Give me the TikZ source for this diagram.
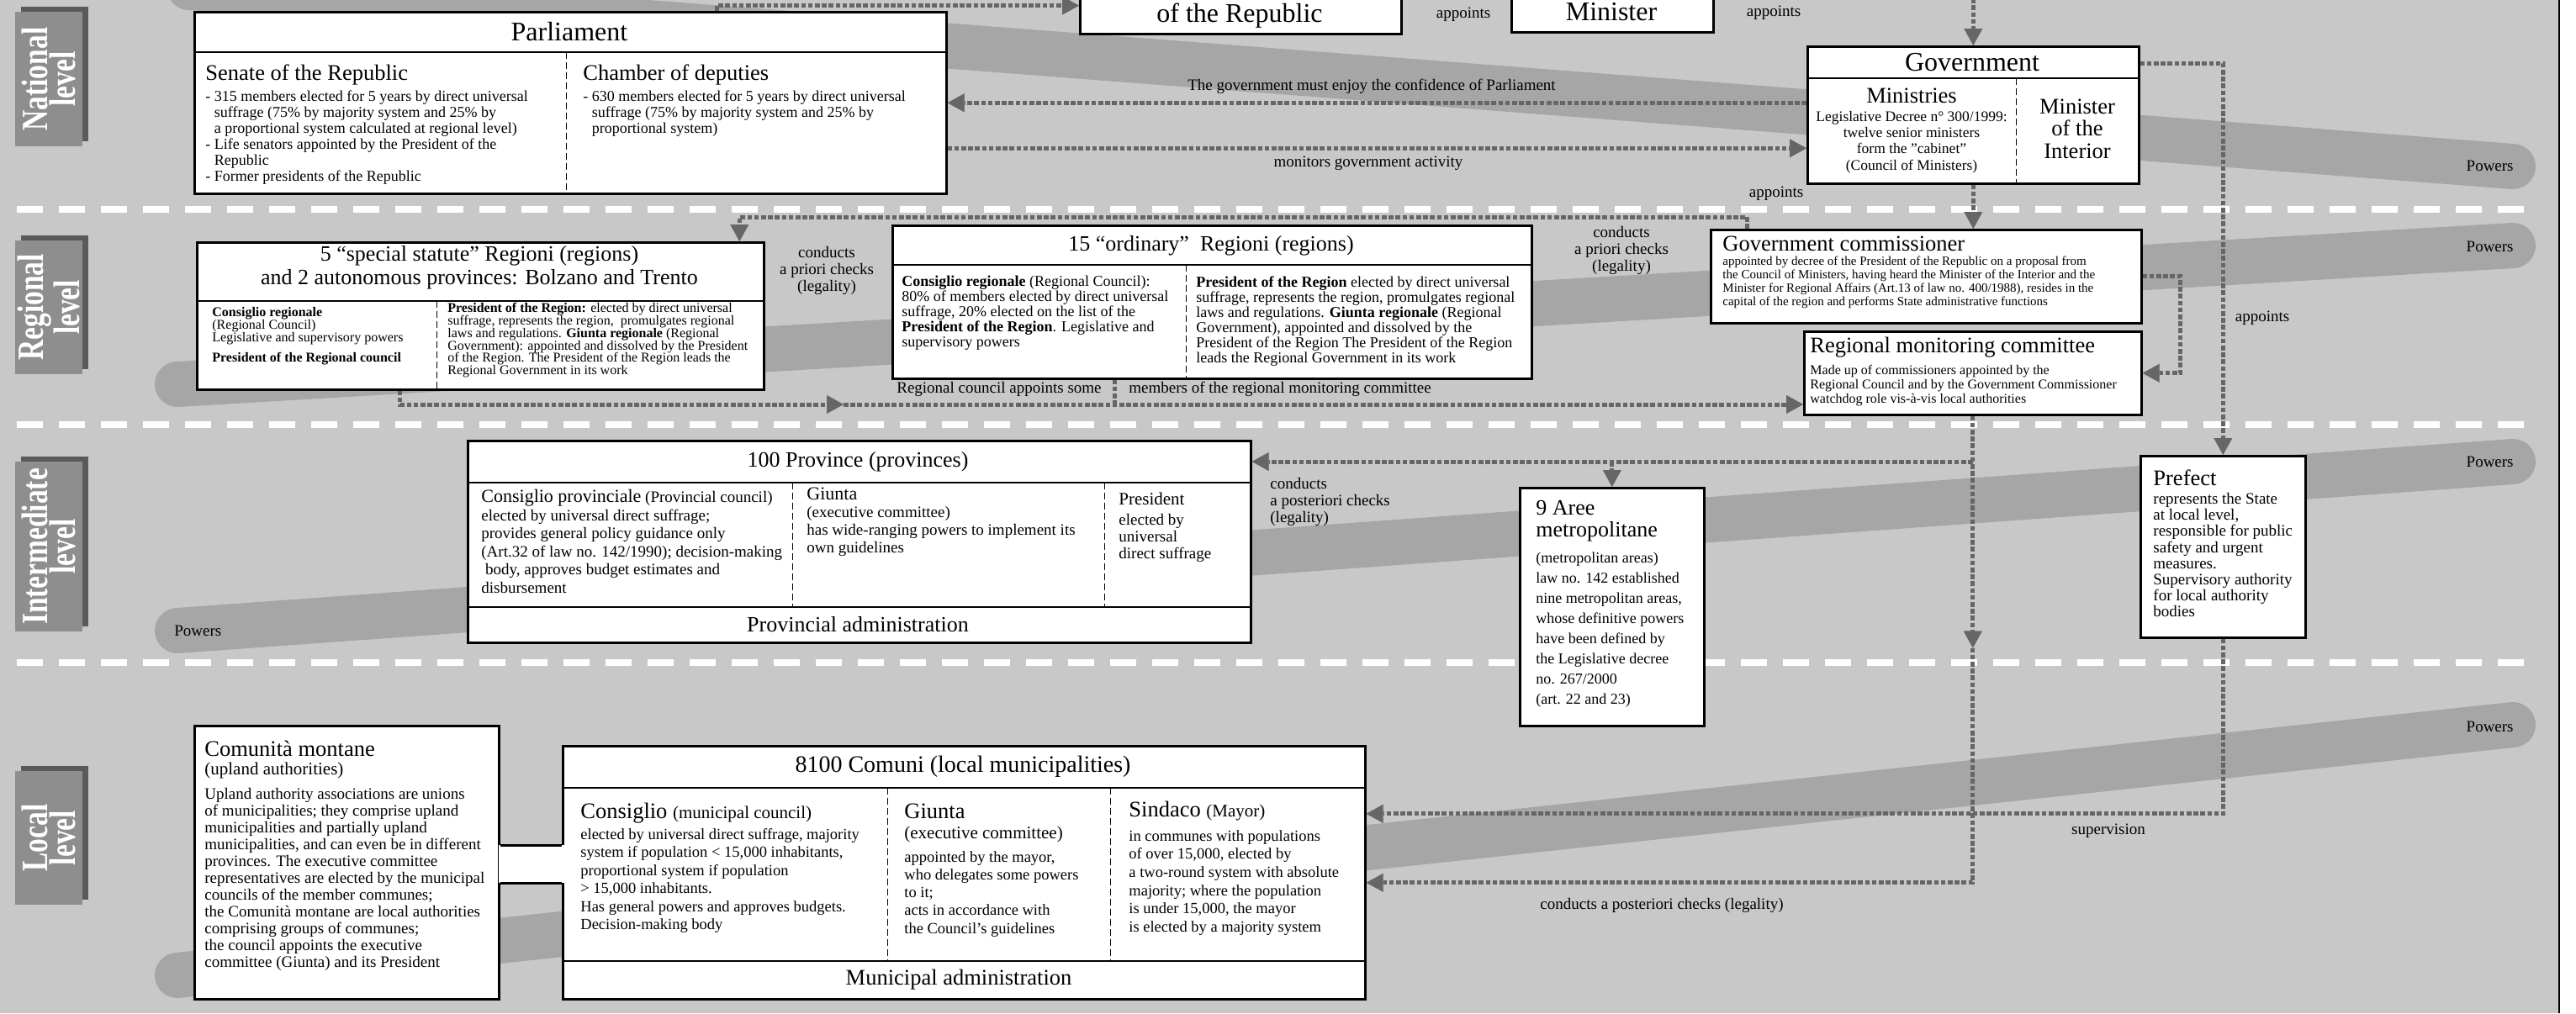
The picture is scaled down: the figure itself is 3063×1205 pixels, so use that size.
\documentclass[tikz,border=0pt]{standalone}
\usepackage{fontspec}
\setmainfont{Liberation Serif}
\usepackage{graphicx}
\usetikzlibrary{arrows.meta, positioning}

\definecolor{bggray}{HTML}{C8C8C8}
\definecolor{bandgray}{HTML}{A6A6A6}
\definecolor{arrgray}{HTML}{666666}
\definecolor{tabfront}{HTML}{8E8E8E}
\definecolor{tabshadow}{HTML}{5A5A5A}

\newcommand\titlefont{\fontsize{16}{18}\selectfont}
\newcommand\headfont{\fontsize{13.25}{14}\selectfont}
\newcommand\bodyfont{\fontsize{9}{9.5}\selectfont}
\newcommand\lblfont{\fontsize{9.5}{10}\selectfont}
\newcommand\tabfont{\fontsize{22}{15}\selectfont\bfseries}
\newcommand\narrowtxt[1]{\scalebox{0.76}[1]{#1}}
\newcommand\dashgap{\phantom{- }}

\tikzset{
  box/.style={draw=black, line width=1.3pt, fill=white, inner sep=0pt, anchor=north west},
  txt/.style={inner sep=0pt, anchor=north west, align=left, font=\bodyfont},
  subhead/.style={inner sep=0pt, font=\headfont},
  maintitle/.style={inner sep=0pt, font=\titlefont},
  lbl/.style={inner sep=0pt, align=center, font=\lblfont},
  dotline/.style={draw=arrgray, line width=2.5pt, dash pattern=on 2.8pt off 1.3pt},
  arr/.style={dotline, -{Triangle[length=10pt, width=11pt, line width=0.1pt]}},
  hline/.style={line width=0.8pt},
  vsplit/.style={line width=0.5pt, dash pattern=on 4pt off 2pt},
  band/.style={bandgray, line width=27pt, line cap=round},
  levelsep/.style={white, line width=3.8pt, dash pattern=on 15.5pt off 9.5pt},
  leveltab/.style={rotate=90, text=white, font=\tabfont, align=center, inner sep=0pt}
}

\begin{document}
\begin{tikzpicture}[x=0.5pt, y=-0.5pt]
  \useasboundingbox (0,0) rectangle (3063,1205);
  \clip (0,0) rectangle (3063,1205);
  \fill[bggray] (0,0) rectangle (3063,1205);

  % power bands
  \draw[band] (225,-15) -- (2988,198);
  \draw[band] (211,457) -- (2988,292);
  \draw[band] (211,750) -- (2988,549);
  \draw[band] (211,1160) -- (2988,862);
  \node[lbl, anchor=east] (pw1) at (2989,197) {Powers};
  \node[lbl, anchor=east] (pw2) at (2989,293) {Powers};
  \node[lbl, anchor=east] (pw3) at (2989,549) {Powers};
  \node[lbl, anchor=west] (pw4) at (207,750) {Powers};
  \node[lbl, anchor=east] (pw5) at (2989,864) {Powers};

  % level separators
  \foreach \y in {249,505,788}
    \draw[levelsep] (20,\y) -- (3017,\y);

  % right frame
  \fill[white] (3044,0) rectangle (3063,1205);
  \draw[line width=1.3pt] (3043,0) -- (3043,1205);

  % level tabs
  \foreach \t/\b/\lab in {14/174/National, 286/445/Regional, 549/751/Intermediate, 917/1076/Local} {
    \fill[tabshadow] (25,\t-6) rectangle (105,\b-6);
    \fill[tabfront] (18,\t) rectangle (98,\b);
    \node[leveltab] (tab\lab) at (58,{(\t+\b)/2}) {\narrowtxt{\lab}\\\narrowtxt{level}};
  }

  % ---------- national level ----------
  \node[box, minimum width=447pt, minimum height=108pt] (parl) at (230,13) {};
  \draw[hline] (230,62) -- (1124,62);
  \draw[vsplit] (673,62) -- (673,229);
  \node[maintitle] (parltitle) at (677,38) {Parliament};
  \node[subhead, anchor=north west] (senate) at (244,76) {Senate of the Republic};
  \node[txt] (senatetxt) at (244,107) {- 315 members elected for 5 years by direct universal\\\dashgap suffrage (75\% by majority system and 25\% by\\\dashgap a proportional system calculated at regional level)\\- Life senators appointed by the President of the\\\dashgap Republic\\- Former presidents of the Republic};
  \node[subhead, anchor=north west] (chamber) at (693,76) {Chamber of deputies};
  \node[txt] (chambertxt) at (693,107) {- 630 members elected for 5 years by direct universal\\\dashgap suffrage (75\% by majority system and 25\% by\\\dashgap proportional system)};

  \node[box, minimum width=191pt, minimum height=60pt] (pres) at (1283,-81) {};
  \node[maintitle] (prestitle) at (1474,19) {of the Republic};
  \node[box, minimum width=120pt, minimum height=60pt] (pm) at (1796,-83) {};
  \node[maintitle] (pmtitle) at (1916,14) {Minister};
  \node[lbl] (app1) at (1740,17) {appoints};
  \node[lbl] (app2) at (2109,15) {appoints};

  \node[box, minimum width=197pt, minimum height=81.5pt] (gov) at (2148,54) {};
  \draw[hline] (2148,93) -- (2542,93);
  \draw[vsplit] (2397,93) -- (2397,217);
  \node[maintitle] (govtitle) at (2345,74) {Government};
  \node[subhead] (ministries) at (2273,114) {Ministries};
  \node[txt, anchor=north, align=center, font=\fontsize{8.75}{9.6}\selectfont] (ministxt) at (2273,132) {Legislative Decree n° 300/1999:\\twelve senior ministers\\form the "cabinet"\\(Council of Ministers)};
  \node[subhead, align=center, font=\fontsize{13.25}{13.25}\selectfont] (interior) at (2470,153) {Minister\\of the\\Interior};

  \node[lbl] (conf) at (1631,103) {The government must enjoy the confidence of Parliament};
  \node[lbl] (monlbl) at (1627,194) {monitors government activity};
  \node[lbl] (app3) at (2112,230) {appoints};

  % ---------- regional level ----------
  \node[box, minimum width=337pt, minimum height=87.5pt] (spst) at (233,287) {};
  \draw[hline] (233,358) -- (907,358);
  \draw[vsplit] (519,358) -- (519,462);
  \node[subhead, align=center, font=\fontsize{13}{14}\selectfont] (spsttitle) at (570,318) {5 “special statute” Regioni (regions)\\and 2 autonomous provinces: Bolzano and Trento};
  \node[txt, font=\fontsize{8}{7.5}\selectfont] (spstleft) at (252,365) {\textbf{Consiglio regionale}\\(Regional Council)\\Legislative and supervisory powers\\[4.5pt]\textbf{President of the Regional council}};
  \node[txt, font=\fontsize{8}{7.4}\selectfont] (spstright) at (532,360) {\textbf{President of the Region:} elected by direct universal\\suffrage, represents the region,\ \ promulgates regional\\laws and regulations. \textbf{Giunta regionale} (Regional\\Government): appointed and dissolved by the President\\of the Region. The President of the Region leads the\\Regional Government in its work};
  \node[lbl] (prio1) at (983,322) {conducts\\a priori checks\\(legality)};

  \node[box, minimum width=380pt, minimum height=91pt] (ord) at (1060,267) {};
  \draw[hline] (1060,315) -- (1820,315);
  \draw[vsplit] (1410,315) -- (1410,449);
  \node[subhead, font=\fontsize{13}{14}\selectfont] (ordtitle) at (1440,292) {15 “ordinary”\ \ Regioni (regions)};
  \node[txt, font=\fontsize{9}{9}\selectfont] (ordleft) at (1072,328) {\textbf{Consiglio regionale} (Regional Council):\\80\% of members elected by direct universal\\suffrage, 20\% elected on the list of the\\\textbf{President of the Region}. Legislative and\\supervisory powers};
  \node[txt, font=\fontsize{9}{9}\selectfont] (ordright) at (1422,328) {\textbf{President of the Region} elected by direct universal\\suffrage, represents the region, promulgates regional\\laws and regulations. \textbf{Giunta regionale} (Regional\\Government), appointed and dissolved by the\\President of the Region The President of the Region\\leads the Regional Government in its work};
  \node[lbl, anchor=east] (rcapp) at (1310,463) {Regional council appoints some};
  \node[lbl, anchor=west] (rcmem) at (1342,463) {members of the regional monitoring committee};
  \node[lbl] (prio2) at (1928,298) {conducts\\a priori checks\\(legality)};

  \node[box, minimum width=256pt, minimum height=55.5pt] (gcom) at (2033,272) {};
  \node[subhead, anchor=west] (gcomtitle) at (2048,290) {Government commissioner};
  \node[txt, font=\fontsize{7.5}{8}\selectfont] (gcomtxt) at (2048,305) {appointed by decree of the President of the Republic on a proposal from\\the Council of Ministers, having heard the Minister of the Interior and the\\Minister for Regional Affairs (Art.13 of law no. 400/1988), resides in the\\capital of the region and performs State administrative functions};

  \node[box, minimum width=200.5pt, minimum height=49.5pt] (regmon) at (2144,393) {};
  \node[subhead, anchor=west] (regmontitle) at (2152,413) {Regional monitoring committee};
  \node[txt, font=\fontsize{8}{8.5}\selectfont] (regmontxt) at (2152,434) {Made up of commissioners appointed by the\\Regional Council and by the Government Commissioner\\watchdog role vis-à-vis local authorities};
  \node[lbl] (app4) at (2690,378) {appoints};

  % ---------- intermediate level ----------
  \node[box, minimum width=465.5pt, minimum height=120pt] (prov) at (555,523) {};
  \draw[hline] (555,574) -- (1486,574);
  \draw[hline] (555,722) -- (1486,722);
  \draw[vsplit] (942,574) -- (942,722);
  \draw[vsplit] (1313,574) -- (1313,722);
  \node[subhead, font=\fontsize{13}{14}\selectfont] (provtitle) at (1020,549) {100 Province (provinces)};
  \node[subhead, font=\fontsize{13}{14}\selectfont] (provadm) at (1020,743) {Provincial administration};
  \node[txt, font=\fontsize{9.5}{10.75}\selectfont] (provcons) at (572,582) {{\fontsize{11}{10.75}\selectfont Consiglio provinciale} (Provincial council)\\elected by universal direct suffrage;\\provides general policy guidance only\\(Art.32 of law no. 142/1990); decision-making\\\ body, approves budget estimates and\\disbursement};
  \node[txt, font=\fontsize{9.5}{10.5}\selectfont] (provgiunta) at (959,580) {{\fontsize{11}{10.5}\selectfont Giunta}\\(executive committee)\\has wide-ranging powers to implement its\\own guidelines};
  \node[txt, font=\fontsize{9.5}{10}\selectfont] (provpres) at (1330,586) {{\fontsize{10.5}{10}\selectfont President}\\[2pt]elected by\\universal\\direct suffrage};
  \node[lbl, anchor=north west, align=left] (post1) at (1510,568) {conducts\\a posteriori checks\\(legality)};

  \node[box, minimum width=109.5pt, minimum height=141.5pt] (aree) at (1806,579) {};
  \node[txt, font=\fontsize{13}{13}\selectfont] (areetitle) at (1826,595) {9 Aree\\metropolitane};
  \node[txt, font=\fontsize{9}{12}\selectfont] (areetxt) at (1826,657) {(metropolitan areas)\\law no. 142 established\\nine metropolitan areas,\\whose definitive powers\\have been defined by\\the Legislative decree\\no. 267/2000\\(art. 22 and 23)};

  \node[box, minimum width=98pt, minimum height=108pt] (prefect) at (2544,541) {};
  \node[subhead, anchor=west] (preftitle) at (2560,568) {Prefect};
  \node[txt, font=\fontsize{9.5}{9.6}\selectfont] (preftxt) at (2560,586) {represents the State\\at local level,\\responsible for public\\safety and urgent\\measures.\\Supervisory authority\\for local authority\\bodies};

  % ---------- local level ----------
  \node[box, minimum width=181pt, minimum height=162.5pt] (mont) at (230,862) {};
  \node[subhead, anchor=west] (monttitle) at (243,890) {Comunità montane};
  \node[txt, font=\fontsize{10.5}{10.5}\selectfont] (montsub) at (243,907) {(upland authorities)};
  \node[txt, font=\fontsize{9.5}{10}\selectfont] (monttxt) at (243,937) {Upland authority associations are unions\\of municipalities; they comprise upland\\municipalities and partially upland\\municipalities, and can even be in different\\provinces. The executive committee\\representatives are elected by the municipal\\councils of the member communes;\\the Comunità montane are local authorities\\comprising groups of communes;\\the council appoints the executive\\committee (Giunta) and its President};

  \node[box, minimum width=477pt, minimum height=150.5pt] (comuni) at (668,886) {};
  \draw[hline] (668,937) -- (1622,937);
  \draw[hline] (668,1143) -- (1622,1143);
  \draw[vsplit] (1055,937) -- (1055,1143);
  \draw[vsplit] (1320,937) -- (1320,1143);
  \node[subhead, font=\fontsize{14}{14}\selectfont] (comtitle) at (1145,912) {8100 Comuni (local municipalities)};
  \node[subhead] (comadm) at (1140,1165) {Municipal administration};
  \node[subhead, anchor=west] (comconshd) at (690,967) {Consiglio {\fontsize{10.5}{12}\selectfont(municipal council)}};
  \node[txt, font=\fontsize{9.25}{10.75}\selectfont] (comconstxt) at (690,985) {elected by universal direct suffrage, majority\\system if population < 15,000 inhabitants,\\proportional system if population\\> 15,000 inhabitants.\\Has general powers and approves budgets.\\Decision-making body};
  \node[subhead, anchor=west] (comgiuhd) at (1075,965) {Giunta};
  \node[txt, font=\fontsize{10.5}{10.5}\selectfont] (comgiusub) at (1075,983) {(executive committee)};
  \node[txt, font=\fontsize{9.25}{10.6}\selectfont] (comgiutxt) at (1075,1012) {appointed by the mayor,\\who delegates some powers\\to it;\\acts in accordance with\\the Council's guidelines};
  \node[subhead, anchor=west] (comsinhd) at (1342,965) {Sindaco {\fontsize{10.5}{12}\selectfont(Mayor)}};
  \node[txt, font=\fontsize{9.25}{10.8}\selectfont] (comsintxt) at (1342,987) {in communes with populations\\of over 15,000, elected by\\a two-round system with absolute\\majority; where the population\\is under 15,000, the mayor\\is elected by a majority system};

  % bridge between the Comunità montane and the Comuni
  \coordinate (bt) at ([yshift=10.25pt]mont.east);
  \coordinate (bb) at ([yshift=-12.25pt]mont.east);
  \fill[white] ([xshift=-1pt]bt) rectangle ([xshift=39pt]bb);
  \draw[line width=1.3pt] (bt) -- (bt -| comuni.west) (bb) -- (bb -| comuni.west);

  \node[lbl] (superv) at (2507,988) {supervision};
  \node[lbl] (post2) at (1976,1077) {conducts a posteriori checks (legality)};

  % ---------- connectors ----------
  \draw[arr] ([xshift=87pt]parl.north) |- ([yshift=17.5pt]pres.south west);
  \draw[arr] (gov.north) ++(0,-64) -- (gov.north);
  \draw[arr] (gov.west |- parl.east) -- (parl.east);
  \coordinate (mon) at ([yshift=-27pt]parl.east);
  \draw[arr] (mon) -- (mon -| gov.west);
  \draw[arr] ([yshift=-10.5pt]gov.north east) -| (prefect.north);
  \draw[arr] (gov.south) -- (gov.south |- gcom.north);
  \draw[arr] ([xshift=-106.5pt]gcom.north) -- ++(0,-14) -| ([xshift=154pt]spst.north);
  \draw[arr] (gcom.east) -- ++(45,0) |- (regmon.east);

  \coordinate (regmid) at (1003,481);
  \draw[arr] ([xshift=-48pt]spst.south) |- (regmid);
  \draw[arr] (regmid) -- (regmid -| regmon.west);
  \draw[dotline] ([xshift=-58pt]ord.south) -- ++(0,32);

  \coordinate (apmid) at ([yshift=-138pt]regmon.south);
  \draw[arr] (regmon.south) -- (apmid);
  \draw[arr] (apmid) |- ([yshift=-6pt]comuni.east);
  \draw[arr] (regmon.south |- provtitle) -- (provtitle -| prov.east);
  \draw[arr] (aree.north |- provtitle) -- (aree.north);
  \draw[arr] (prefect.south) |- ([yshift=35pt]comuni.east);
\end{tikzpicture}
\end{document}
